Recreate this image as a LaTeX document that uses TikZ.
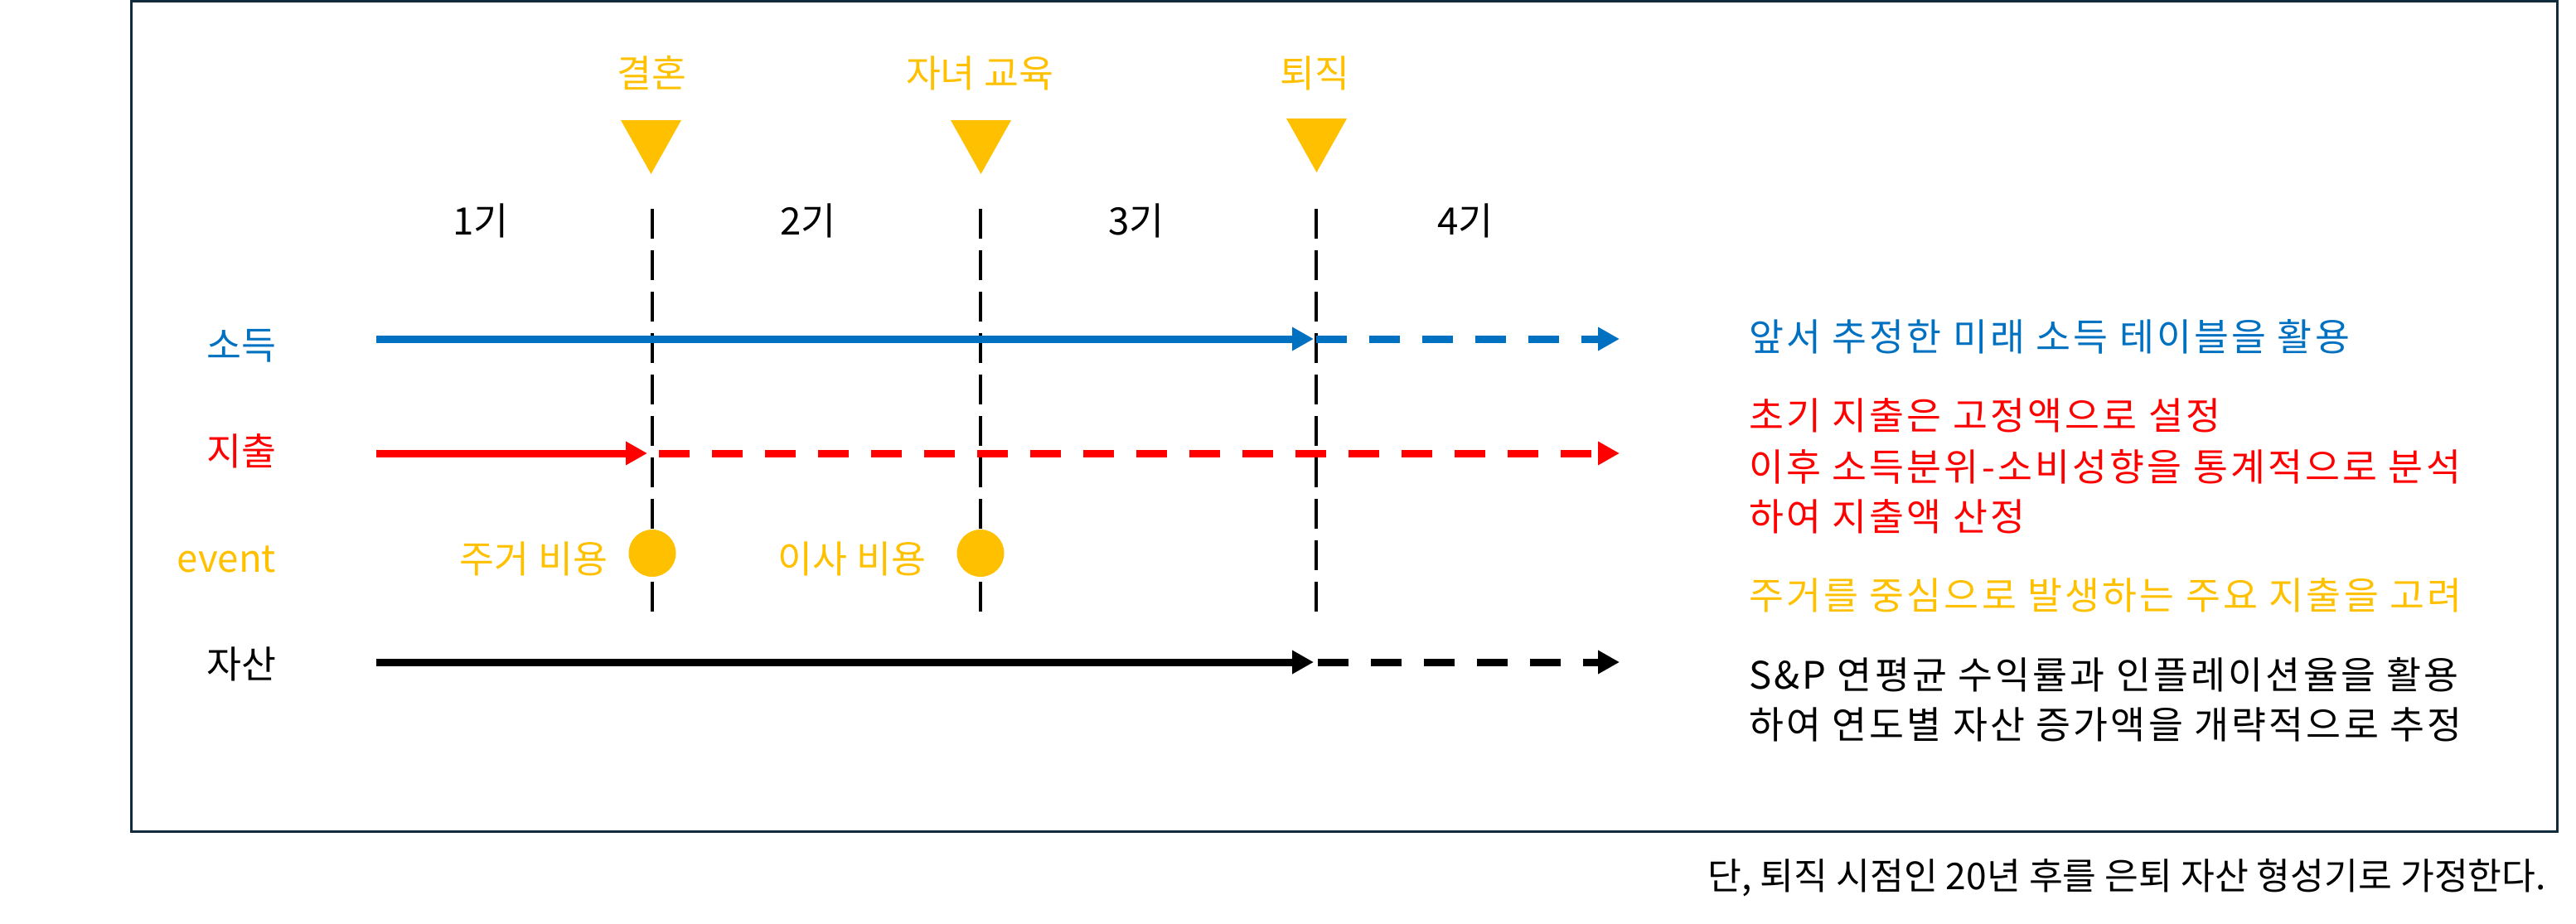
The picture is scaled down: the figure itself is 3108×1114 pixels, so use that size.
\documentclass[tikz,border=0pt]{standalone}
\usepackage{fontspec}
\setmainfont{Noto Sans CJK KR}
\newfontfamily\widefont[LetterSpace=7]{Noto Sans CJK KR}
\usetikzlibrary{arrows.meta}
\definecolor{incblue}{HTML}{0070C0}
\definecolor{expred}{HTML}{FF0000}
\definecolor{evtgold}{HTML}{FFC000}
\definecolor{framec}{HTML}{0F2B3C}
\newcommand\szmain{\fontsize{22.8pt}{27pt}\selectfont}
\newcommand\sznote{\fontsize{22.2pt}{26pt}\selectfont}
\begin{document}
\begin{tikzpicture}[x=0.5pt,y=-0.5pt,
  every node/.style={inner sep=0pt,outer sep=0pt,font=\szmain},
  vdash/.style={black,line width=2.25pt,dash pattern=on 18pt off 7pt},
  flow/.style={line width=4.5pt},
  flowdash/.style={line width=4.5pt,dash pattern=on 18.5pt off 13.5pt},
  tip/.style={-{Triangle[length=13pt,width=13.5pt]}},
  evdot/.style={circle,fill=evtgold,minimum size=28.5pt},
  evmark/.style={fill=evtgold},
  rowlbl/.style={anchor=base east},
  rtxt/.style={anchor=base west,font=\widefont\szmain},
]
\useasboundingbox (0,0) rectangle (3108,1114);
\draw[framec,line width=1.5pt] (158,1.5) rectangle (3085,1003);

% event titles and markers
\node[anchor=base,text=evtgold] (tMar) at (786,105) {결혼};
\node[anchor=base,text=evtgold] (tEdu) at (1182,105) {자녀 교육};
\node[anchor=base,text=evtgold] (tRet) at (1586,105) {퇴직};
\fill[evmark] (749,145) -- (822,145) -- (785.5,210) -- cycle;
\fill[evmark] (1147,145) -- (1220,145) -- (1183.5,210) -- cycle;
\fill[evmark] (1552,143) -- (1625,143) -- (1588.5,208) -- cycle;

% period labels
\node[anchor=base] (p1) at (580,283) {1기};
\node[anchor=base] (p2) at (975,283) {2기};
\node[anchor=base] (p3) at (1371,283) {3기};
\node[anchor=base] (p4) at (1768,283) {4기};

% vertical dividers
\coordinate (v1t) at (787,252);  \coordinate (v1b) at (787,742);
\coordinate (v2t) at (1183,252); \coordinate (v2b) at (1183,742);
\coordinate (v3t) at (1588,252); \coordinate (v3b) at (1588,742);
\draw[vdash] (v1t) -- (v1b);
\draw[vdash] (v2t) -- (v2b);
\draw[vdash] (v3t) -- (v3b);

% row labels
\node[rowlbl,text=incblue] (lInc) at (333,433) {소득};
\node[rowlbl,text=expred] (lExp) at (333,561) {지출};
\node[rowlbl,text=evtgold] (lEvt) at (333,690) {event};
\node[rowlbl,text=black] (lAst) at (333,818) {자산};

% income
\coordinate (i0) at (454,409); \coordinate (i1) at (1585,409);
\coordinate (i2) at (1588,409); \coordinate (i3) at (1954,409);
\draw[flow,incblue,tip] (i0) -- (i1);
\draw[flowdash,incblue,tip] (i2) -- (i3);

% expense
\coordinate (e0) at (454,547); \coordinate (e1) at (781,547);
\coordinate (e2) at (795,547); \coordinate (e3) at (1954,547);
\draw[flow,expred,tip] (e0) -- (e1);
\draw[flowdash,expred,tip] (e2) -- (e3);

% asset
\coordinate (a0) at (454,799); \coordinate (a1) at (1585,799);
\coordinate (a2) at (1590,799); \coordinate (a3) at (1954,799);
\draw[flow,black,tip] (a0) -- (a1);
\draw[flowdash,black,tip] (a2) -- (a3);

% events
\node[evdot] (dHouse) at (787,667.5) {};
\node[evdot] (dMove) at (1183,667.5) {};
\node[anchor=base east,text=evtgold] (tHouse) at (733,691) {주거 비용};
\node[anchor=base east,text=evtgold] (tMove) at (1117,691) {이사 비용};

% right-side notes
\node[rtxt,text=incblue] (r1) at (2110,423) {앞서 추정한 미래 소득 테이블을 활용};
\node[rtxt,text=expred] (r2) at (2110,518) {초기 지출은 고정액으로 설정};
\node[rtxt,text=expred] (r3) at (2110,580) {이후 소득분위-소비성향을 통계적으로 분석};
\node[rtxt,text=expred] (r4) at (2110,640) {하여 지출액 산정};
\node[rtxt,text=evtgold] (r5) at (2110,735) {주거를 중심으로 발생하는 주요 지출을 고려};
\node[rtxt,text=black] (r6) at (2110,831) {S\&P 연평균 수익률과 인플레이션율을 활용};
\node[rtxt,text=black] (r7) at (2110,891) {하여 연도별 자산 증가액을 개략적으로 추정};

% footnote
\node[anchor=base east,font=\sznote] (note) at (3072,1073) {단, 퇴직 시점인 20년 후를 은퇴 자산 형성기로 가정한다.};
\end{tikzpicture}
\end{document}
